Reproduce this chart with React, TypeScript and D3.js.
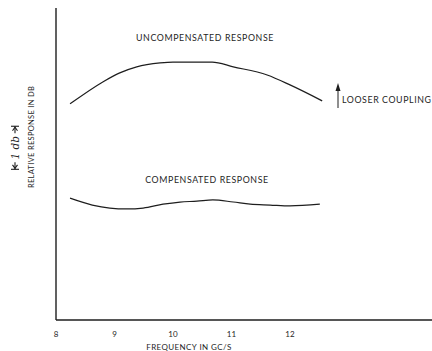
import React, { useEffect, useRef } from "react";
import * as d3 from "d3";

// frequency in GC/S, relative response in dB
const uncompFreq = [8.24, 8.8, 9.09, 9.38, 9.78, 10.0, 10.34, 10.67, 11.03, 11.61, 12.0, 12.55];
const uncompDb = [5.02, 5.53, 5.74, 5.88, 5.97, 5.99, 5.99, 5.99, 5.88, 5.69, 5.46, 5.09];

const compFreq = [8.24, 8.62, 8.92, 9.21, 9.49, 9.83, 10.12, 10.41, 10.68, 11.03, 11.32, 11.66, 12.0, 12.51];
const compDb = [2.83, 2.67, 2.6, 2.58, 2.6, 2.69, 2.74, 2.76, 2.79, 2.74, 2.69, 2.67, 2.65, 2.69];

const xTicks = [8, 9, 10, 11, 12];

const App: React.FC = () => {
    const svgRef = useRef<SVGSVGElement | null>(null);

    useEffect(() => {
        if (!svgRef.current) return;
        const svg = d3.select(svgRef.current);
        svg.selectAll("*").remove();

        const width = 432;
        const height = 351;
        const font = "Lato, 'Open Sans', sans-serif";
        const ink = "#1e1e1e";

        const x = d3.scaleLinear().domain([8, 12]).range([56, 290]);
        const y = d3.scaleLinear().domain([0, 7.2]).range([320, 10]);

        svg.attr("width", width).attr("height", height);

        // axes
        svg.append("line")
            .attr("x1", 56).attr("x2", 56)
            .attr("y1", 8).attr("y2", y(0))
            .attr("stroke", ink).attr("stroke-width", 1.4);
        svg.append("line")
            .attr("x1", 56).attr("x2", width)
            .attr("y1", y(0)).attr("y2", y(0))
            .attr("stroke", ink).attr("stroke-width", 1.4);

        svg.selectAll("text.tick")
            .data(xTicks)
            .join("text")
            .attr("class", "tick")
            .attr("x", (d) => x(d))
            .attr("y", 337)
            .attr("text-anchor", "middle")
            .attr("font-family", font)
            .attr("font-size", 8)
            .attr("fill", ink)
            .text((d) => d);

        svg.append("text")
            .attr("x", 189).attr("y", 350)
            .attr("text-anchor", "middle")
            .attr("font-family", font).attr("font-size", 8)
            .attr("letter-spacing", 0.4)
            .attr("fill", ink)
            .text("FREQUENCY IN GC/S");

        svg.append("text")
            .attr("transform", "translate(34,137) rotate(-90)")
            .attr("text-anchor", "middle")
            .attr("font-family", font).attr("font-size", 7.5)
            .attr("letter-spacing", 0.3)
            .attr("fill", ink)
            .text("RELATIVE RESPONSE IN DB");

        // 1 db scale marker
        const mTop = y(4.5);
        const mBot = y(3.5);
        const mx = 15;
        const mg = svg.append("g").attr("stroke", ink).attr("stroke-width", 1.1);
        mg.append("line").attr("x1", mx - 4).attr("x2", mx + 4).attr("y1", mTop).attr("y2", mTop);
        mg.append("line").attr("x1", mx - 4).attr("x2", mx + 4).attr("y1", mBot).attr("y2", mBot);
        mg.append("line").attr("x1", mx).attr("x2", mx).attr("y1", mTop).attr("y2", mTop + 7);
        mg.append("line").attr("x1", mx).attr("x2", mx).attr("y1", mBot).attr("y2", mBot - 7);
        mg.append("path").attr("d", `M${mx - 2.5},${mTop + 4.5}L${mx},${mTop + 1}L${mx + 2.5},${mTop + 4.5}`).attr("fill", "none");
        mg.append("path").attr("d", `M${mx - 2.5},${mBot - 4.5}L${mx},${mBot - 1}L${mx + 2.5},${mBot - 4.5}`).attr("fill", "none");
        svg.append("text")
            .attr("transform", `translate(${mx + 4},${(mTop + mBot) / 2}) rotate(-90)`)
            .attr("text-anchor", "middle")
            .attr("font-family", "'DejaVu Serif', serif")
            .attr("font-style", "italic")
            .attr("font-size", 10.5)
            .attr("fill", ink)
            .text("1 db");

        // curves
        const line = d3.line<[number, number]>()
            .x((d) => x(d[0]))
            .y((d) => y(d[1]))
            .curve(d3.curveMonotoneX);

        const uncomp: [number, number][] = uncompFreq.map((f, i) => [f, uncompDb[i]]);
        const comp: [number, number][] = compFreq.map((f, i) => [f, compDb[i]]);

        svg.append("path")
            .attr("d", line(uncomp))
            .attr("fill", "none").attr("stroke", ink).attr("stroke-width", 1.2);
        svg.append("path")
            .attr("d", line(comp))
            .attr("fill", "none").attr("stroke", ink).attr("stroke-width", 1.2);

        svg.append("text")
            .attr("x", 205).attr("y", 41)
            .attr("text-anchor", "middle")
            .attr("font-family", font).attr("font-size", 8.8)
            .attr("letter-spacing", 0.6)
            .attr("fill", ink)
            .text("UNCOMPENSATED RESPONSE");

        svg.append("text")
            .attr("x", 207).attr("y", 183)
            .attr("text-anchor", "middle")
            .attr("font-family", font).attr("font-size", 8.8)
            .attr("letter-spacing", 0.6)
            .attr("fill", ink)
            .text("COMPENSATED RESPONSE");

        // looser coupling arrow
        svg.append("line")
            .attr("x1", 338).attr("x2", 338)
            .attr("y1", 108).attr("y2", 86)
            .attr("stroke", ink).attr("stroke-width", 1);
        svg.append("path")
            .attr("d", "M335.5,91L338,83L340.5,91Z")
            .attr("fill", ink);
        svg.append("text")
            .attr("x", 342).attr("y", 103)
            .attr("font-family", font).attr("font-size", 8.8)
            .attr("letter-spacing", 0.6)
            .attr("fill", ink)
            .text("LOOSER COUPLING");
    }, []);

    return <svg ref={svgRef} style={{ display: "block", position: "absolute", left: 0, top: 0 }}></svg>;
};

export default App;
